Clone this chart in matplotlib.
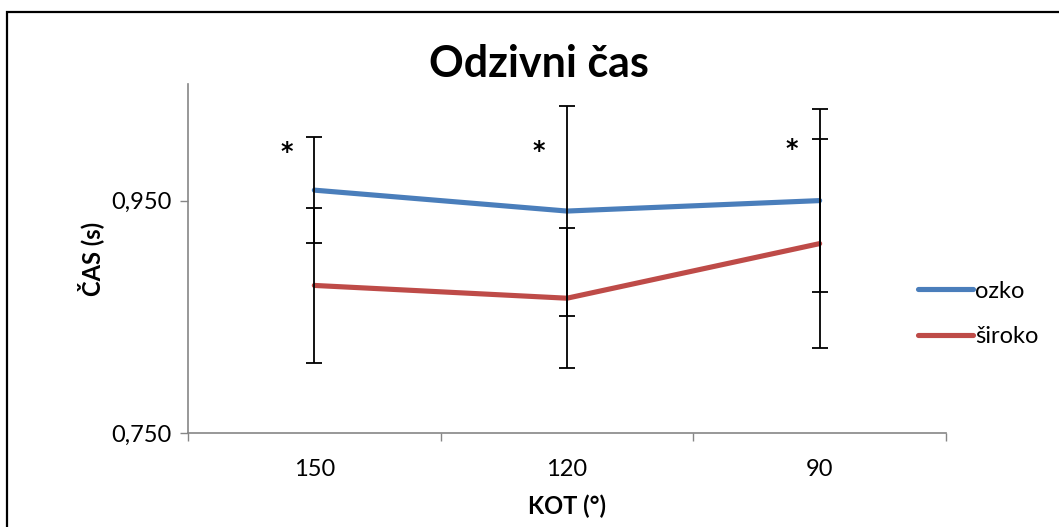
import matplotlib
matplotlib.use("Agg")
from matplotlib import pyplot as plt
from matplotlib.patches import Rectangle
import numpy as np

# data
categories = ['150', '120', '90']
ozko = [0.959, 0.941, 0.950]
ozko_err = [0.0456, 0.090, 0.079]
siroko = [0.877, 0.866, 0.913]
siroko_err = [0.067, 0.060, 0.090]
stars = ['*', '*', '*']
star_y = [0.999, 1.000, 1.001]

plt.rcParams['font.family'] = ['Lato', 'DejaVu Sans']

W, H = 1059, 527
fig = plt.figure(figsize=(W/100, H/100), dpi=100)
ax = fig.add_axes([188/W, 1-433/H, (946-188)/W, (433-84.4)/H])

x = np.arange(len(categories))
blue, red = '#4a7ebb', '#be4b48'
ax.plot(x, ozko, color=blue, lw=3.7, solid_capstyle='round', label='ozko', zorder=3)
ax.plot(x, siroko, color=red, lw=3.7, solid_capstyle='round', label='široko', zorder=3)
ax.errorbar(x, ozko, yerr=ozko_err, fmt='none', ecolor='black', elinewidth=1.3,
            capsize=6, capthick=1.3, zorder=4)
ax.errorbar(x, siroko, yerr=siroko_err, fmt='none', ecolor='black', elinewidth=1.3,
            capsize=6, capthick=1.3, zorder=4)
for i, s in enumerate(stars):
    ax.text(i - 0.11, star_y[i] - 0.007, s, ha='center', va='center', fontsize=17,
            family='DejaVu Sans', fontweight='bold', color='black')

ax.set_xlim(-0.5, len(categories) - 0.5)
ax.set_ylim(0.75, 1.05)
ax.set_yticks([0.75, 0.95])
ax.set_yticklabels(['0,750', '0,950'], fontsize=17)
ax.set_xticks(x)
ax.set_xticklabels(categories, fontsize=17)
ax.set_xticks(np.arange(len(categories) + 1) - 0.5, minor=True)
ax.tick_params(axis='x', which='major', length=0, pad=19)
ax.tick_params(axis='x', which='minor', length=6, color='#868686', width=1)
ax.tick_params(axis='y', length=6, color='#868686', width=1, pad=6)
for sp in ['top', 'right']:
    ax.spines[sp].set_visible(False)
for sp in ['left', 'bottom']:
    ax.spines[sp].set_color('#868686')
    ax.spines[sp].set_linewidth(1.2)

ax.set_xlabel('KOT (°)', fontsize=17, fontweight='bold', labelpad=10)
ax.set_ylabel('ČAS (s)', fontsize=17, fontweight='bold', labelpad=5)
fig.text(539/W, 1-64/H, 'Odzivni čas', ha='center', va='center', fontsize=31,
         fontweight='bold')

ax.legend(loc='center left', bbox_to_anchor=(897/W, 1-314/H), bbox_transform=fig.transFigure,
          frameon=False, fontsize=17, handlelength=2.3, handletextpad=0.1,
          labelspacing=1.05)

fig.patches.append(Rectangle((7/W, -0.1), 1.2, 1.1 - 12/H, transform=fig.transFigure,
                             fill=False, edgecolor='black', lw=1.6))

fig.savefig('out.png', dpi=100)
